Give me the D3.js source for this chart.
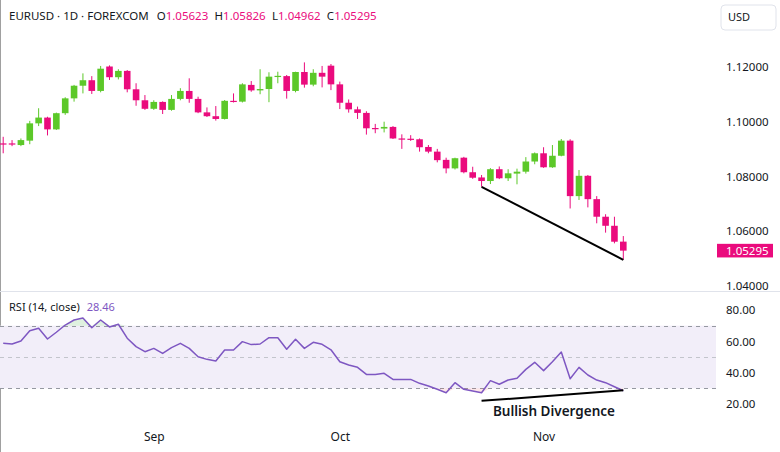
<!DOCTYPE html>
<html>
<head>
<meta charset="utf-8">
<script src="https://cdn.jsdelivr.net/npm/d3@7"></script>
<style>
  body { margin: 0; background: #fff; }
  svg text { font-family: "Noto Sans", sans-serif; }
</style>
</head>
<body>
<svg width="780" height="452"></svg>
<script>
const dates = [
  "2024-08-08","2024-08-09","2024-08-12","2024-08-13","2024-08-14","2024-08-15","2024-08-16","2024-08-19","2024-08-20","2024-08-21",
  "2024-08-22","2024-08-23","2024-08-26","2024-08-27","2024-08-28","2024-08-29","2024-08-30","2024-09-02","2024-09-03","2024-09-04",
  "2024-09-05","2024-09-06","2024-09-09","2024-09-10","2024-09-11","2024-09-12","2024-09-13","2024-09-16","2024-09-17","2024-09-18",
  "2024-09-19","2024-09-20","2024-09-23","2024-09-24","2024-09-25","2024-09-26","2024-09-27","2024-09-30","2024-10-01","2024-10-02",
  "2024-10-03","2024-10-04","2024-10-07","2024-10-08","2024-10-09","2024-10-10","2024-10-11","2024-10-14","2024-10-15","2024-10-16",
  "2024-10-17","2024-10-18","2024-10-21","2024-10-22","2024-10-23","2024-10-24","2024-10-25","2024-10-28","2024-10-29","2024-10-30",
  "2024-10-31","2024-11-01","2024-11-04","2024-11-05","2024-11-06","2024-11-07","2024-11-08","2024-11-11","2024-11-12","2024-11-13",
  "2024-11-14"
];

const opens = [
  1.0920,1.0920,1.0914,1.0930,1.0993,1.1014,1.0971,1.1030,1.1084,1.1130,
  1.1150,1.1111,1.1200,1.1161,1.1184,1.1117,1.1077,1.1046,1.1071,1.1042,
  1.1082,1.1111,1.1082,1.1033,1.1019,1.1009,1.1075,1.1072,1.1133,1.1113,
  1.1118,1.1163,1.1165,1.1111,1.1180,1.1134,1.1177,1.1203,1.1135,1.1068,
  1.1044,1.1031,1.0976,1.0974,1.0980,1.0938,1.0937,1.0935,1.0907,1.0890,
  1.0860,1.0829,1.0868,1.0815,1.0796,1.0783,1.0826,1.0793,1.0810,1.0817,
  1.0854,1.0884,1.0833,1.0875,1.0930,1.0728,1.0802,1.0717,1.0653,1.0620,
  1.05623
];
const highs = [
  1.0944,1.0932,1.0938,1.1002,1.1048,1.1017,1.1032,1.1088,1.1133,1.1175,
  1.1165,1.1202,1.1204,1.1190,1.1187,1.1139,1.1096,1.1077,1.1073,1.1096,
  1.1121,1.1157,1.1090,1.1051,1.1056,1.1078,1.1102,1.1139,1.1147,1.1190,
  1.1179,1.1181,1.1169,1.1181,1.1215,1.1190,1.1202,1.1209,1.1145,1.1080,
  1.1054,1.1037,1.0991,1.0999,1.0983,1.0953,1.0950,1.0938,1.0914,1.0900,
  1.0868,1.0868,1.0871,1.0835,1.0805,1.0830,1.0836,1.0826,1.0828,1.0870,
  1.0887,1.0906,1.0914,1.0936,1.0935,1.0823,1.0805,1.0728,1.0662,1.0653,
  1.05826
];
const lows = [
  1.0884,1.0910,1.0910,1.0917,1.0983,1.0949,1.0969,1.1024,1.1072,1.1102,
  1.1100,1.1106,1.1151,1.1153,1.1106,1.1057,1.1042,1.1042,1.1027,1.1039,
  1.1077,1.1068,1.1030,1.1016,1.1003,1.1007,1.1069,1.1069,1.1108,1.1099,
  1.1070,1.1139,1.1083,1.1106,1.1123,1.1128,1.1124,1.1114,1.1045,1.1032,
  1.1009,1.0952,1.0957,1.0960,1.0936,1.0900,1.0929,1.0890,1.0884,1.0851,
  1.0811,1.0825,1.0811,1.0791,1.0762,1.0772,1.0790,1.0783,1.0771,1.0810,
  1.0844,1.0831,1.0831,1.0873,1.0683,1.0714,1.0687,1.0629,1.0595,1.0556,
  1.04962
];
const closes = [
  1.0918,1.0918,1.0932,1.0993,1.1014,1.0971,1.1030,1.1084,1.1130,1.1150,
  1.1111,1.1192,1.1161,1.1184,1.1117,1.1077,1.1046,1.1071,1.1042,1.1082,
  1.1111,1.1082,1.1033,1.1019,1.1009,1.1075,1.1072,1.1135,1.1113,1.1118,
  1.1163,1.1166,1.1111,1.1180,1.1134,1.1177,1.1163,1.1135,1.1068,1.1044,
  1.1031,1.0975,1.0973,1.0980,1.0938,1.0936,1.0935,1.0906,1.0890,1.0859,
  1.0829,1.0866,1.0815,1.0795,1.0783,1.0826,1.0793,1.0811,1.0817,1.0854,
  1.0884,1.0833,1.0875,1.0930,1.0728,1.0802,1.0717,1.0653,1.0620,1.0562,
  1.05295
];

const rsiValues = [
  58.7,58.3,60.2,66.8,68.3,61.5,65.8,70.4,73.6,74.9,
  68.7,73.6,69.2,70.9,62.0,56.6,53.4,55.5,52.3,56.0,
  58.7,55.5,50.2,48.5,47.4,54.5,54.5,59.8,57.9,58.3,
  62.3,62.3,54.9,61.3,55.5,59.4,58.1,54.6,47.0,44.9,
  43.4,38.9,38.9,39.6,35.7,35.7,35.7,33.2,31.5,29.4,
  27.2,33.6,29.4,28.3,27.2,34.9,32.6,35.3,36.4,42.1,
  46.6,41.3,47.0,53.2,36.1,43.4,38.5,35.3,33.6,31.0,
  28.46
];

const priceTicks = [1.04, 1.06, 1.08, 1.10, 1.12];
const rsiTicks = [20, 40, 60, 80];
const rsiBands = [70, 50, 30];
const monthTickDates = ["2024-09-02", "2024-10-01", "2024-11-01"];
const monthTickLabels = ["Sep", "Oct", "Nov"];

const divDates = ["2024-10-23", "2024-11-14"];
const divPrice = [1.0762, 1.04962];
const divRsi = [22.0, 28.8];

const upColor = "#5cc829";
const downColor = "#ea0b7d";
const rsiColor = "#7e57c2";
const textColor = "#131722";

const svg = d3.select("svg");

const xScale = d3.scalePoint().domain(dates).range([3.2, 623.3]);
const yPrice = d3.scaleLinear().domain([1.04, 1.12]).range([286.2, 66.5]);
const yRsi = d3.scaleLinear().domain([20, 80]).range([404, 310]);
const plotRight = 716;

// frame
svg.append("line").attr("x1", 0.5).attr("x2", 0.5).attr("y1", 0).attr("y2", 452)
  .attr("stroke", "#a0a0a0");
svg.append("line").attr("x1", 0).attr("x2", 780).attr("y1", 291.5).attr("y2", 291.5)
  .attr("stroke", "#e0e3eb");

// candles
const candles = dates.map((d, i) => ({ d, o: opens[i], h: highs[i], l: lows[i], c: closes[i] }));
const cG = svg.append("g").attr("id", "candles");
cG.selectAll("line")
  .data(candles)
  .enter()
  .append("line")
  .attr("x1", d => xScale(d.d))
  .attr("x2", d => xScale(d.d))
  .attr("y1", d => yPrice(d.h))
  .attr("y2", d => yPrice(d.l))
  .attr("stroke", d => d.c >= d.o ? upColor : downColor)
  .attr("stroke-width", 1);
cG.selectAll("rect")
  .data(candles)
  .enter()
  .append("rect")
  .attr("x", d => xScale(d.d) - 3.3)
  .attr("width", 6.6)
  .attr("y", d => yPrice(Math.max(d.o, d.c)))
  .attr("height", d => Math.max(1.2, Math.abs(yPrice(d.o) - yPrice(d.c))))
  .attr("fill", d => d.c >= d.o ? upColor : downColor);

// price divergence line
svg.append("line")
  .attr("x1", xScale(divDates[0])).attr("y1", yPrice(divPrice[0]))
  .attr("x2", xScale(divDates[1])).attr("y2", yPrice(divPrice[1]))
  .attr("stroke", "#000").attr("stroke-width", 2);

// price axis
const yAxis = d3.axisRight(yPrice).tickValues(priceTicks).tickSize(0).tickPadding(0)
  .tickFormat(d3.format(".5f"));
svg.append("g")
  .attr("transform", "translate(726,0)")
  .call(g => {
    g.call(yAxis);
    g.select(".domain").remove();
    g.selectAll("text").attr("fill", textColor).style("font-size", "11.5px")
      .style("font-family", "'Noto Sans', sans-serif");
  });

// last price tag
const last = candles[candles.length - 1];
svg.append("rect")
  .attr("x", 717).attr("y", yPrice(last.c) - 6.8)
  .attr("width", 56).attr("height", 13.6)
  .attr("fill", downColor);
svg.append("text")
  .attr("x", 726).attr("y", yPrice(last.c)).attr("dy", "0.35em")
  .attr("fill", "#fff").style("font-size", "11.5px")
  .text(d3.format(".5f")(last.c));

// USD box
svg.append("rect")
  .attr("x", 721).attr("y", 5).attr("width", 55).attr("height", 25).attr("rx", 4)
  .attr("fill", "#fff").attr("stroke", "#e0e3eb");
svg.append("text")
  .attr("x", 728).attr("y", 17.5).attr("dy", "0.35em")
  .attr("fill", textColor).style("font-size", "11px").text("USD");

// header legend
const fmt5 = d3.format(".5f");
svg.append("text").attr("x", 9).attr("y", 19.5)
  .attr("fill", textColor).style("font-size", "11.5px")
  .text("EURUSD · 1D · FOREXCOM");
const ohlc = [["O", last.o], ["H", last.h], ["L", last.l], ["C", last.c]];
const items = ohlc.map(([k, v]) => {
  const t = svg.append("text").attr("y", 19.5).style("font-size", "11.5px");
  t.append("tspan").attr("fill", textColor).text(k);
  t.append("tspan").attr("fill", downColor).text(fmt5(v));
  return t;
});
const widths = items.map(t => t.node().getComputedTextLength());
const gap = (376.7 - 156.7 - d3.sum(widths)) / 3;
let hx = 156.7;
items.forEach((t, i) => {
  t.attr("x", hx);
  hx += widths[i] + gap;
});

// RSI pane
svg.append("rect")
  .attr("x", 0).attr("width", plotRight)
  .attr("y", yRsi(70)).attr("height", yRsi(30) - yRsi(70))
  .attr("fill", "#f2eef9");

svg.append("g")
  .selectAll("line")
  .data(rsiBands)
  .enter()
  .append("line")
  .attr("x1", 0).attr("x2", plotRight)
  .attr("y1", d => Math.round(yRsi(d)) + 0.5)
  .attr("y2", d => Math.round(yRsi(d)) + 0.5)
  .attr("stroke", d => d === 50 ? "#c3c5cc" : "#9598a1")
  .attr("stroke-dasharray", "4,4");

const rsiData = dates.map((d, i) => ({ d, v: rsiValues[i] }));
svg.append("path")
  .datum(rsiData)
  .attr("fill", "rgba(76,175,80,0.18)")
  .attr("d", d3.area().x(d => xScale(d.d)).y0(yRsi(70)).y1(d => yRsi(Math.max(70, d.v))));
svg.append("path")
  .datum(rsiData)
  .attr("fill", "rgba(242,54,69,0.12)")
  .attr("d", d3.area().x(d => xScale(d.d)).y0(yRsi(30)).y1(d => yRsi(Math.min(30, d.v))));
svg.append("path")
  .datum(rsiData)
  .attr("fill", "none")
  .attr("stroke", rsiColor)
  .attr("stroke-width", 1.5)
  .attr("stroke-linejoin", "round")
  .attr("d", d3.line().x(d => xScale(d.d)).y(d => yRsi(d.v)));

// rsi divergence line
svg.append("line")
  .attr("x1", xScale(divDates[0])).attr("y1", yRsi(divRsi[0]))
  .attr("x2", xScale(divDates[1])).attr("y2", yRsi(divRsi[1]))
  .attr("stroke", "#000").attr("stroke-width", 2);
svg.append("text")
  .attr("x", (xScale(divDates[0]) + xScale(divDates[1])) / 2 + 1.5)
  .attr("y", 416)
  .attr("text-anchor", "middle")
  .attr("fill", textColor)
  .style("font-size", "13.5px").style("font-weight", 600)
  .text("Bullish Divergence");

const rAxis = d3.axisRight(yRsi).tickValues(rsiTicks).tickSize(0).tickPadding(0)
  .tickFormat(d3.format(".2f"));
svg.append("g")
  .attr("transform", "translate(726,0)")
  .call(g => {
    g.call(rAxis);
    g.select(".domain").remove();
    g.selectAll("text").attr("fill", textColor).style("font-size", "11.5px")
      .style("font-family", "'Noto Sans', sans-serif");
  });

const rsiLegend = svg.append("text").attr("x", 9).attr("y", 311).style("font-size", "11px");
rsiLegend.append("tspan").attr("fill", textColor).text("RSI (14, close)");
rsiLegend.append("tspan").attr("fill", rsiColor).attr("dx", 7).text(d3.format(".2f")(rsiValues[rsiValues.length - 1]));

// x axis
const xAxis = d3.axisBottom(xScale).tickValues(monthTickDates).tickSize(0).tickPadding(0)
  .tickFormat((d, i) => monthTickLabels[i]);
svg.append("g")
  .attr("transform", "translate(0,432)")
  .call(g => {
    g.call(xAxis);
    g.select(".domain").remove();
    g.selectAll("text").attr("fill", textColor).style("font-size", "12px")
      .style("font-family", "'Noto Sans', sans-serif");
  });
</script>
</body>
</html>
